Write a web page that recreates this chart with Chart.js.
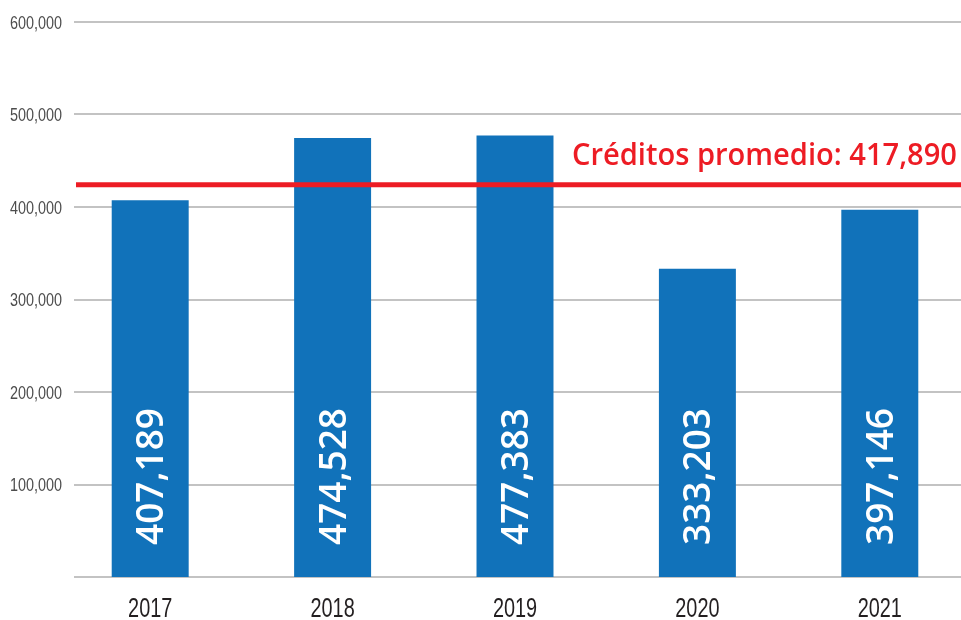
<!DOCTYPE html>
<html>
<head>
<meta charset="utf-8">
<script src="https://cdn.jsdelivr.net/npm/chart.js@4/dist/chart.umd.min.js"></script>
<style>
  html, body { margin: 0; padding: 0; background: #ffffff; overflow: hidden; }
  #wrap { width: 975px; height: 620px; position: relative; }
</style>
</head>
<body>
<div id="wrap"><canvas id="c"></canvas></div>
<script>
const years = ['2017', '2018', '2019', '2020', '2021'];
const credits = [407189, 474528, 477383, 333203, 397146];
const valueLabels = ['407,189', '474,528', '477,383', '333,203', '397,146'];
const averageText = 'Créditos promedio: 417,890';
const averageLineLevel = 424000;
const yTicks = [0, 100000, 200000, 300000, 400000, 500000, 600000];

const BLUE = '#1172ba';
const RED = '#ed1c24';
const GRID = '#c3c3c3';

function condensedText(ctx, text, x, y, sx, align) {
  ctx.save();
  const w = ctx.measureText(text).width * sx;
  let left = x;
  if (align === 'right') left = x - w;
  else if (align === 'center') left = x - w / 2;
  ctx.translate(left, y);
  ctx.scale(sx, 1);
  ctx.textAlign = 'left';
  ctx.fillText(text, 0, 0);
  ctx.restore();
}

const overlay = {
  id: 'overlay',
  beforeDatasetsDraw(chart) {
    const ctx = chart.ctx;
    const y = chart.scales.y;
    const x = chart.scales.x;
    ctx.save();
    ctx.strokeStyle = GRID;
    ctx.lineWidth = 2;
    y.ticks.forEach(t => {
      const py = Math.round(y.getPixelForValue(t.value));
      ctx.beginPath();
      ctx.moveTo(74, py);
      ctx.lineTo(chart.width, py);
      ctx.stroke();
    });
    ctx.fillStyle = '#4d4d4d';
    ctx.font = '18px "Liberation Sans", Arial, sans-serif';
    ctx.textBaseline = 'alphabetic';
    y.ticks.forEach(t => {
      if (t.value === 0) return;
      const py = y.getPixelForValue(t.value);
      condensedText(ctx, t.value.toLocaleString('en-US'), 62, py + 6.5, 0.8, 'right');
    });
    ctx.fillStyle = '#231f20';
    ctx.font = '28px "Liberation Sans", Arial, sans-serif';
    years.forEach((lab, i) => {
      condensedText(ctx, lab, x.getPixelForTick(i), 617, 0.71, 'center');
    });
    ctx.restore();
  },
  afterDatasetsDraw(chart) {
    const ctx = chart.ctx;
    const y = chart.scales.y;
    const meta = chart.getDatasetMeta(0);
    ctx.save();
    ctx.fillStyle = '#ffffff';
    ctx.font = '600 37px "Open Sans"';
    ctx.textAlign = 'left';
    ctx.textBaseline = 'alphabetic';
    const base = y.getPixelForValue(0);
    meta.data.forEach((bar, i) => {
      ctx.save();
      ctx.translate(bar.x + 13, base - 32);
      ctx.rotate(-Math.PI / 2);
      ctx.fillText(valueLabels[i], 0, 0);
      ctx.restore();
    });
    const ly = y.getPixelForValue(averageLineLevel);
    ctx.strokeStyle = RED;
    ctx.lineWidth = 5;
    ctx.beginPath();
    ctx.moveTo(76, ly);
    ctx.lineTo(chart.width, ly);
    ctx.stroke();
    ctx.font = '600 30px "Open Sans"';
    const w = ctx.measureText(averageText).width;
    ctx.fillStyle = RED;
    condensedText(ctx, averageText, 572, 165, Math.min(1, 385 / w), 'left');
    ctx.restore();
  }
};

new Chart(document.getElementById('c'), {
  type: 'bar',
  data: {
    labels: years,
    datasets: [{
      data: credits,
      backgroundColor: BLUE,
      borderWidth: 0,
      categoryPercentage: 1,
      barPercentage: 0.422
    }]
  },
  options: {
    responsive: true,
    maintainAspectRatio: false,
    animation: false,
    events: [],
    layout: { padding: { left: 12, top: 22, right: 4, bottom: 0 } },
    plugins: { legend: { display: false }, tooltip: { enabled: false } },
    scales: {
      x: {
        grid: { display: false, drawTicks: false },
        border: { display: false },
        ticks: { display: false },
        afterFit(scale) { scale.height = 43; }
      },
      y: {
        min: 0,
        max: 600000,
        afterBuildTicks(scale) { scale.ticks = yTicks.map(v => ({ value: v })); },
        grid: { display: false, drawTicks: false },
        border: { display: false },
        ticks: { display: false },
        afterFit(scale) { scale.width = 47; }
      }
    }
  },
  plugins: [overlay]
});
</script>
</body>
</html>
